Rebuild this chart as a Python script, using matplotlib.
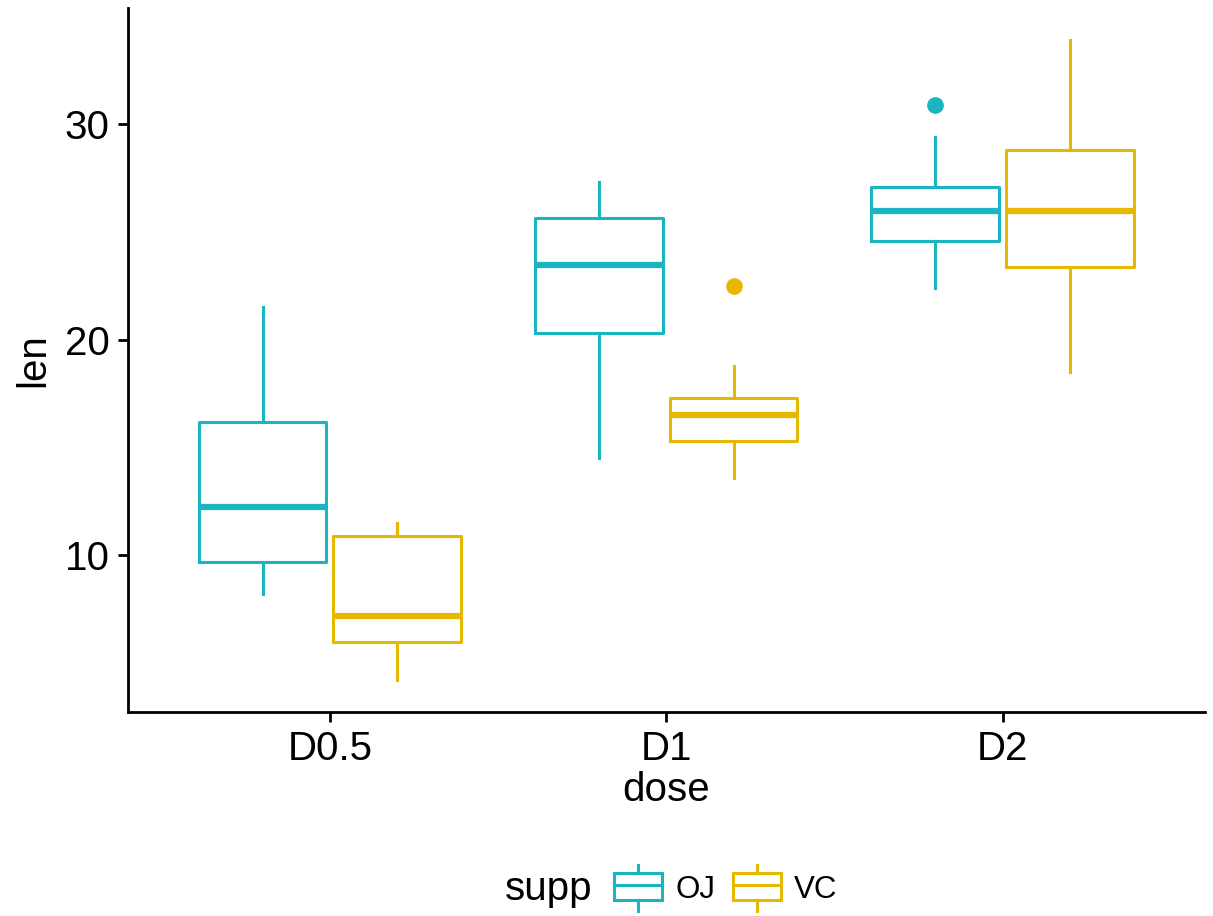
import matplotlib
matplotlib.use("Agg")
import matplotlib.pyplot as plt
from matplotlib.legend_handler import HandlerBase
from matplotlib.lines import Line2D
from matplotlib.patches import Rectangle

plt.rcParams["font.family"] = ["Liberation Sans", "DejaVu Sans"]

# datos (estadisticas de cada caja)
doses = ["D0.5", "D1", "D2"]
supps = ["OJ", "VC"]
colors = {"OJ": "#1BB5C1", "VC": "#E7B800"}

oj_med = [12.25, 23.45, 25.95]
oj_q1 = [9.7, 20.3, 24.575]
oj_q3 = [16.18, 25.65, 27.075]
oj_lo = [8.2, 14.5, 22.4]
oj_hi = [21.5, 27.3, 29.4]
oj_out = [[], [], [30.9]]

vc_med = [7.15, 16.5, 25.95]
vc_q1 = [5.95, 15.275, 23.375]
vc_q3 = [10.9, 17.3, 28.8]
vc_lo = [4.2, 13.6, 18.5]
vc_hi = [11.5, 18.8, 33.9]
vc_out = [[], [22.5], []]


def make_stats(med, q1, q3, lo, hi, out):
  return [dict(med=m, q1=a, q3=b, whislo=l, whishi=h, fliers=f)
          for m, a, b, l, h, f in zip(med, q1, q3, lo, hi, out)]


series = {
  "OJ": make_stats(oj_med, oj_q1, oj_q3, oj_lo, oj_hi, oj_out),
  "VC": make_stats(vc_med, vc_q1, vc_q3, vc_lo, vc_hi, vc_out),
}

# leyenda con caja
class BoxHandler(HandlerBase):
  def __init__(self, color):
    super().__init__()
    self.color = color

  def create_artists(self, legend, orig_handle, xdescent, ydescent,
                     width, height, fontsize, trans):
    c = self.color
    x0 = -xdescent
    cx = x0 + width / 2
    y0 = -ydescent
    rect = Rectangle((x0, y0), width, height, fill=False, edgecolor=c,
                     lw=2.2, transform=trans)
    med = Line2D([x0, x0 + width], [y0 + height * 0.55] * 2,
                 color=c, lw=2.2, transform=trans)
    w1 = Line2D([cx, cx], [y0 + height, y0 + height * 1.32],
                color=c, lw=2.2, transform=trans)
    w2 = Line2D([cx, cx], [y0 - height * 0.4, y0],
                color=c, lw=2.2, transform=trans)
    return [w1, w2, rect, med]


# crear gráfica
fig = plt.figure(figsize=(12.13, 9.16), dpi=100)
ax = fig.add_axes([0.1055, 0.2227, 0.8875, 0.7683])

offsets = {"OJ": -0.2, "VC": 0.2}
xs = list(range(1, len(doses) + 1))
for s in supps:
  c = colors[s]
  ax.bxp(series[s], positions=[x + offsets[s] for x in xs], widths=0.38,
         showfliers=True, patch_artist=False, manage_ticks=False,
         boxprops=dict(color=c, lw=2.2),
         whiskerprops=dict(color=c, lw=2.2),
         capprops=dict(lw=0),
         medianprops=dict(color=c, lw=4.5, solid_capstyle="butt"),
         flierprops=dict(marker="o", markerfacecolor=c, markeredgecolor=c,
                         markersize=11))

ax.set_xlim(0.4, 3.6)
ax.set_ylim(2.715, 35.385)
ax.set_xticks(xs)
ax.set_xticklabels(doses)
ax.set_yticks([10, 20, 30])
ax.tick_params(labelsize=29, width=2, length=7, pad=6,
               color="black", labelcolor="black")
ax.set_xlabel("dose", fontsize=29, labelpad=2)
ax.set_ylabel("len", fontsize=29, labelpad=9)
for side in ["top", "right"]:
  ax.spines[side].set_visible(False)
for side in ["left", "bottom"]:
  ax.spines[side].set_linewidth(2)

handles = [Rectangle((0, 0), 1, 1) for _ in supps]
leg = fig.legend(handles, supps, loc="center left",
                 bbox_to_anchor=(614 / 1213, 1 - 889 / 916),
                 ncol=2, frameon=False, fontsize=22.5, borderpad=0,
                 borderaxespad=0, handlelength=1.55, handleheight=0.93,
                 handletextpad=0.42, columnspacing=0.55,
                 handler_map={h: BoxHandler(colors[s]) for h, s in zip(handles, supps)})
fig.text(592 / 1213, 1 - 889 / 916, "supp", fontsize=29, ha="right", va="center")

fig.savefig("out.png", dpi=100)
